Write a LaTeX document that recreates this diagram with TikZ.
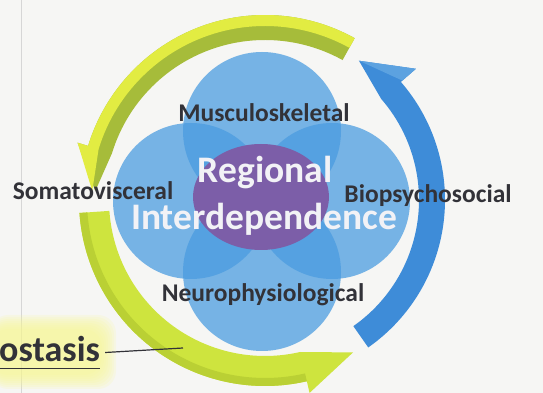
\documentclass[tikz,border=0pt]{standalone}
\usepackage{fontspec}
\setmainfont{Carlito}
\definecolor{paper}{RGB}{246,246,244}
\definecolor{ink}{RGB}{50,50,56}
\definecolor{corewhite}{RGB}{242,242,246}
\definecolor{petalblue}{RGB}{74,156,224}
\definecolor{corepurple}{RGB}{124,94,168}
\definecolor{limebright}{RGB}{226,236,66}
\definecolor{olive}{RGB}{166,188,58}
\definecolor{lime}{RGB}{206,228,62}
\definecolor{limeshade}{RGB}{186,208,52}
\definecolor{ringblue}{RGB}{62,140,216}
\definecolor{ringbluelight}{RGB}{92,162,224}
\definecolor{marker}{RGB}{246,246,150}
\definecolor{margin}{RGB}{214,214,214}

% curved band with a flared head, centred on (hub):
% #1 style, #2 tail angle, #3 head base angle, #4 tip angle,
% #5 outer radius, #6 inner radius, #7 flare radius, #8 tip radius
\newcommand\arcarrow[8]{%
  \fill[#1] ([shift={(hub)}]#2:#5) arc[start angle=#2, end angle=#3, radius=#5]
    -- ([shift={(hub)}]#3:#7) -- ([shift={(hub)}]#4:#8)
    -- ([shift={(hub)}]#3:#6) arc[start angle=#3, end angle=#2, radius=#6] -- cycle;}
% plain curved strip: #1 style, #2/#3 angles, #4/#5 radii
\newcommand\arcstrip[5]{%
  \fill[#1] ([shift={(hub)}]#2:#4) arc[start angle=#2, end angle=#3, radius=#4]
    -- ([shift={(hub)}]#3:#5) arc[start angle=#3, end angle=#2, radius=#5] -- cycle;}

\begin{document}
\begin{tikzpicture}[x=1pt,y=1pt,
  lbl/.style={font=\bfseries\fontsize{25.5}{25.5}\selectfont, text=ink, inner sep=0pt, anchor=base},
  core/.style={font=\bfseries\fontsize{37.5}{37.5}\selectfont, text=corewhite, inner sep=0pt, anchor=base},
  petal/.style={fill=petalblue, fill opacity=0.74},
]
\useasboundingbox (0,0) rectangle (543,393);
\fill[paper] (0,0) rectangle (543,393);

% page margin rule
\draw[margin, line width=0.8pt] (21,0) -- (21,393);

% soft highlighter stroke behind the caption
\foreach \g in {0,2,...,14}
  \fill[marker, fill opacity=0.16, rounded corners=18pt]
    (-10,4+\g) rectangle (116-\g,78-\g);

\coordinate (hub) at (265,193);

% upper green arrow (olive inner face, bright top face)
\arcarrow{olive}{61}{163}{177}{185}{160}{196}{170}
\arcarrow{limebright}{61}{163}{177}{185}{174}{196}{173}

% lower green arrow
\arcarrow{lime}{184}{283}{300}{186}{156}{198}{176}
\arcstrip{limeshade}{184}{283}{186}{178}

% blue arrow with a lighter head face
\arcarrow{ringblue}{-55}{41}{56}{180}{154}{200}{168}
\fill[ringbluelight] ([shift={(hub)}]41:200) -- ([shift={(hub)}]56:168) -- ([shift={(hub)}]41:182) -- cycle;

% four overlapping petals and the core
\fill[petal] (262,262) circle[radius=79];
\fill[petal] (262,121) circle[radius=79];
\fill[petal] (191,192) circle[radius=78];
\fill[petal] (332,192) circle[radius=78];
\fill[corepurple] (261,196) ellipse[x radius=68, y radius=53];

% labels
\node[lbl] (musc) at (264,271) {Musculoskeletal};
\node[lbl] (soma) at (93,193) {Somatovisceral};
\node[lbl] (bio) at (428,190) {Biopsychosocial};
\node[lbl] (neuro) at (263,91) {Neurophysiological};
\node[core] (reg) at (265,210) {Regional};
\node[core] (inter) at (264,163) {Interdependence};

% caption with leader line
\node[font=\bfseries\fontsize{36}{36}\selectfont, text=ink, inner sep=0pt, anchor=base west]
  (homeo) at (-1,31) {ostasis};
\draw[ink, line width=1.6pt] (homeo.south west) ++(0,-6) coordinate (ulstart) -- (ulstart -| homeo.south east);
\coordinate (arcpt) at (183,45);
\draw[ink, line width=1.2pt] ([xshift=5pt,yshift=-3pt]homeo.east) -- (arcpt);
\end{tikzpicture}
\end{document}
